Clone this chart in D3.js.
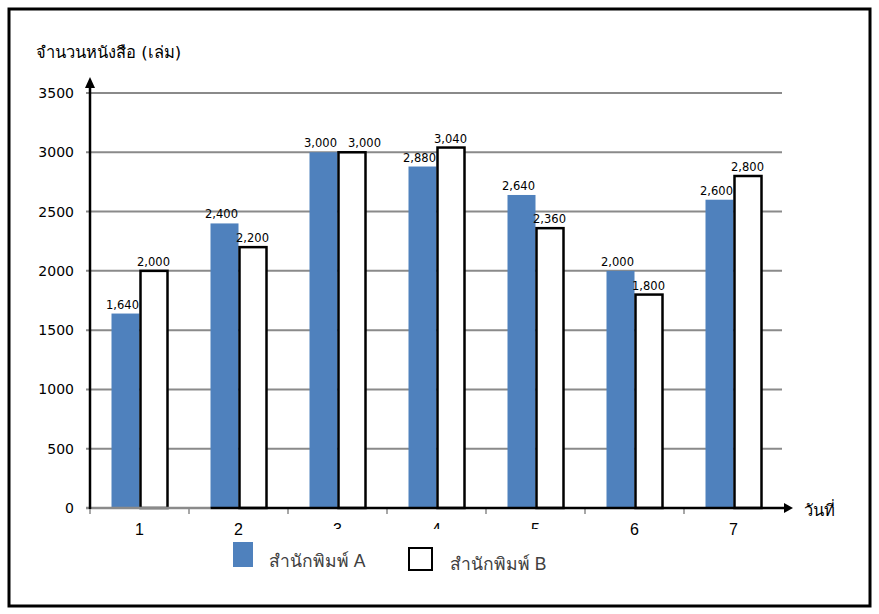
<!DOCTYPE html>
<html><head><meta charset="utf-8">
<script src="https://cdn.jsdelivr.net/npm/d3@7/dist/d3.min.js"></script>
<style>body{margin:0;background:#fff}svg{display:block}</style>
</head><body>
<script>
const categories = ["1","2","3","4","5","6","7"];
const seriesNames = ["สำนักพิมพ์ A","สำนักพิมพ์ B"];
const valuesA = [1640,2400,3000,2880,2640,2000,2600];
const valuesB = [2000,2200,3000,3040,2360,1800,2800];
const yTicks = [0,500,1000,1500,2000,2500,3000,3500];
const yTitle = "จำนวนหนังสือ (เล่ม)";
const xTitle = "วันที่";

const W = 879, H = 614;
const svg = d3.select("body").append("svg").attr("width", W).attr("height", H);
const numFont = "Tahoma, 'DejaVu Sans', sans-serif";
const armFont = "Arial, 'Liberation Sans', sans-serif";

svg.append("rect").attr("x", 9).attr("y", 9).attr("width", 861).attr("height", 597)
  .attr("fill", "#fff").attr("stroke", "#000").attr("stroke-width", 3);

const x0 = d3.scaleBand().domain(categories).range([90, 783]).padding(0);
const bw = 28;
const x1 = d3.scaleBand().domain(["A","B"])
  .range([x0.bandwidth()/2 - bw, x0.bandwidth()/2 + bw]).padding(0);
const y = d3.scaleLinear().domain([0, 3500]).range([508, 93]);

// gridlines
svg.append("g").selectAll("line").data(yTicks.filter(d => d > 0)).join("line")
  .attr("x1", 86).attr("x2", 782).attr("y1", d => y(d)).attr("y2", d => y(d))
  .attr("stroke", "#8a8a8a").attr("stroke-width", 2);

// y tick labels
svg.append("g").selectAll("text").data(yTicks).join("text")
  .attr("x", 74).attr("y", d => y(d) + 5).attr("text-anchor", "end")
  .attr("font-family", numFont).attr("font-size", 14).attr("fill", "#000")
  .text(d => d);

// x tick marks
svg.append("g").selectAll("line").data(categories).join("line")
  .attr("x1", d => x0(d)).attr("x2", d => x0(d)).attr("y1", 508).attr("y2", 514)
  .attr("stroke", "#8a8a8a").attr("stroke-width", 1.5);

// x tick labels
svg.append("g").selectAll("text").data(categories).join("text")
  .attr("x", d => x0(d) + x0.bandwidth()/2).attr("y", 535).attr("text-anchor", "middle")
  .attr("font-family", armFont).attr("font-size", 16).attr("fill", "#000")
  .text(d => d);

// bars
const rows = categories.map((c, i) => ({c, A: valuesA[i], B: valuesB[i]}));
const g = svg.append("g");
g.selectAll("rect.a").data(rows).join("rect").attr("class", "a")
  .attr("x", d => x0(d.c) + x1("A")).attr("width", x1.bandwidth())
  .attr("y", d => y(d.A)).attr("height", d => y(0) - y(d.A))
  .attr("fill", "#4F81BD");
g.selectAll("rect.b").data(rows).join("rect").attr("class", "b")
  .attr("x", d => x0(d.c) + x1("B") + 1).attr("width", x1.bandwidth() - 1)
  .attr("y", d => y(d.B)).attr("height", d => y(0) - y(d.B))
  .attr("fill", "#fff").attr("stroke", "#000").attr("stroke-width", 2.5);

// value labels (B label pushed right when both labels sit at the same height)
const fmt = d3.format(",");
const ax = d => x0(d.c) + x1("A") + x1.bandwidth()/2 - 3;
const bx = d => {
  const base = x0(d.c) + x1("B") + x1.bandwidth()/2;
  return Math.abs(y(d.A) - y(d.B)) < 13 ? Math.max(base, ax(d) + 44) : base;
};
g.selectAll("text.la").data(rows).join("text").attr("class", "la")
  .attr("x", ax).attr("y", d => y(d.A) - 5)
  .attr("text-anchor", "middle").attr("font-family", numFont).attr("font-size", 11.5)
  .text(d => fmt(d.A));
g.selectAll("text.lb").data(rows).join("text").attr("class", "lb")
  .attr("x", bx).attr("y", d => y(d.B) - 5)
  .attr("text-anchor", "middle").attr("font-family", numFont).attr("font-size", 11.5)
  .text(d => fmt(d.B));

// x axis baseline
svg.append("line").attr("x1", 86).attr("x2", x0("2") + x1("A")).attr("y1", 508).attr("y2", 508)
  .attr("stroke", "#8a8a8a").attr("stroke-width", 2.5);
svg.append("line").attr("x1", x0("2") + x1("A")).attr("x2", 786).attr("y1", 508).attr("y2", 508)
  .attr("stroke", "#000").attr("stroke-width", 2.5);
svg.append("path").attr("d", "M784,503 L793,508 L784,513 Z").attr("fill", "#000");

// y axis
svg.append("line").attr("x1", 90).attr("x2", 90).attr("y1", 509).attr("y2", 86)
  .attr("stroke", "#000").attr("stroke-width", 2.5);
svg.append("path").attr("d", "M85,88 L90,77 L95,88 Z").attr("fill", "#000");

// axis titles
svg.append("text").attr("x", 36).attr("y", 58)
  .attr("font-family", numFont).attr("font-size", 16.5).attr("fill", "#000").text(yTitle);
svg.append("text").attr("x", 804).attr("y", 516)
  .attr("font-family", numFont).attr("font-size", 16.5).attr("fill", "#000").text(xTitle);

// legend (its background overlaps some x labels, as in the reference)
svg.append("rect").attr("x", 258).attr("y", 529).attr("width", 312).attr("height", 50).attr("fill", "#fff");
svg.append("rect").attr("x", 233).attr("y", 542).attr("width", 20).attr("height", 25).attr("fill", "#4F81BD");
svg.append("text").attr("x", 269).attr("y", 567).attr("font-family", armFont).attr("font-size", 17.5)
  .attr("fill", "#404040").text(seriesNames[0]);
svg.append("rect").attr("x", 409).attr("y", 548).attr("width", 23).attr("height", 22)
  .attr("fill", "#fff").attr("stroke", "#000").attr("stroke-width", 2);
svg.append("text").attr("x", 450).attr("y", 570).attr("font-family", armFont).attr("font-size", 17.5)
  .attr("fill", "#404040").text(seriesNames[1]);
</script>
</body></html>
